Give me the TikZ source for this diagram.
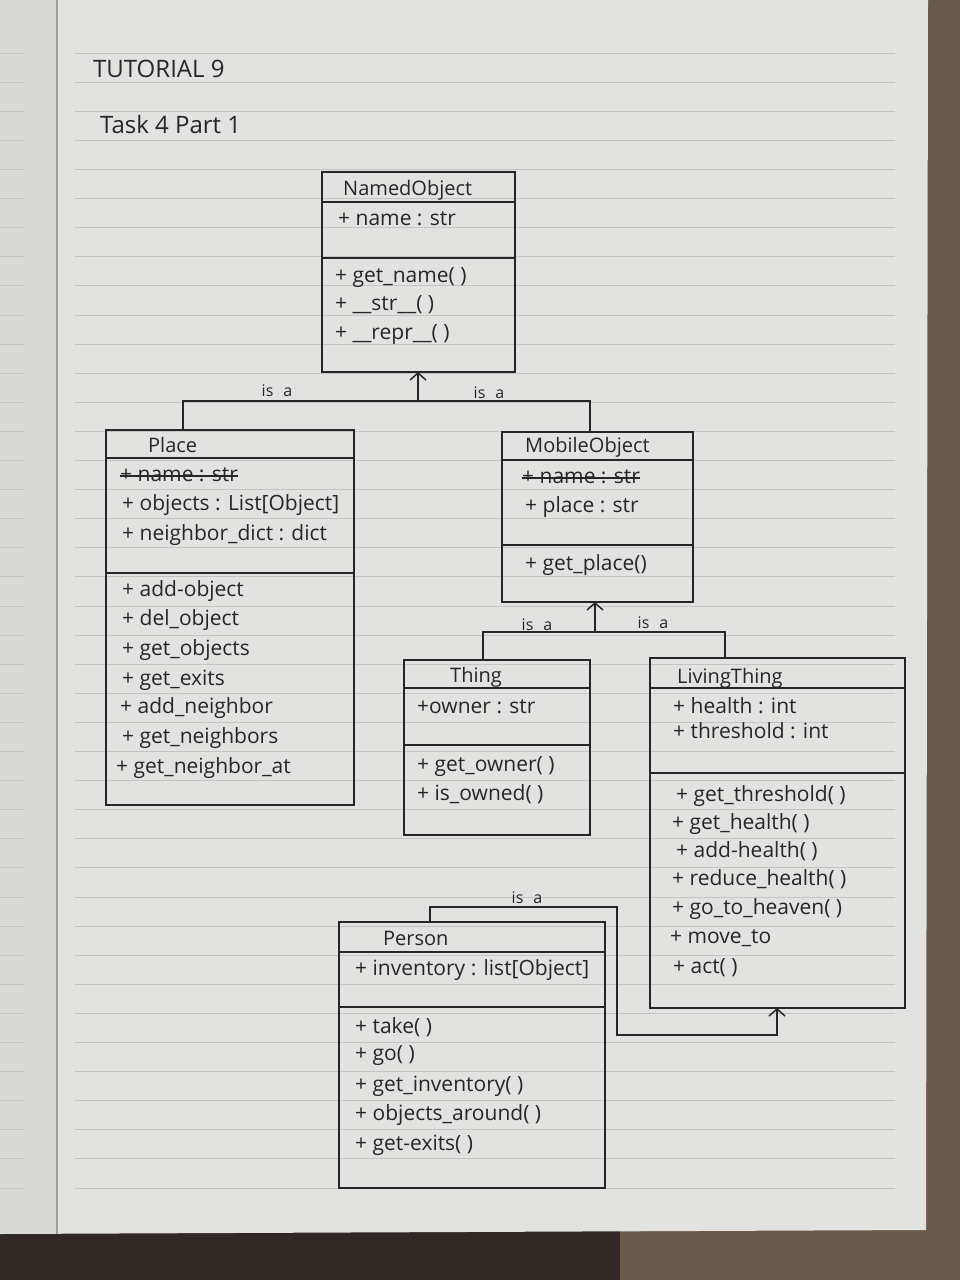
\documentclass[tikz,border=0pt]{standalone}
\usepackage{fontspec}
\setmainfont{Open Sans}
\usetikzlibrary{arrows.meta}
\definecolor{ink}{HTML}{262626}
\definecolor{paper}{HTML}{E2E2E0}
\definecolor{leftpage}{HTML}{D8D8D6}
\definecolor{rulecol}{HTML}{C4C4C2}
\definecolor{wood}{HTML}{6A5A4C}
\definecolor{darkwood}{HTML}{2F2824}
\definecolor{spine}{HTML}{A0A09E}
\begin{document}
\begin{tikzpicture}[x=1pt,y=-1pt,
  cls/.style={draw=ink, line width=1.6pt, anchor=north west, inner sep=0pt, outer sep=0pt},
  txt/.style={anchor=west, inner sep=0pt, text height=15pt, text depth=5pt, text=ink, font=\fontsize{21}{24}\selectfont},
  ttl/.style={txt, font=\fontsize{20}{24}\selectfont},
  head/.style={txt, font=\fontsize{24}{28}\selectfont},
  lbl/.style={anchor=base, inner sep=0pt, text=ink, font=\fontsize{16}{18}\selectfont},
  sep/.style={draw=ink, line width=1.4pt},
  link/.style={draw=ink, line width=1.5pt},
  strike/.style={draw=ink, line width=1.3pt},
  isa/.style={link, -{Straight Barb[length=7pt,width=16pt,line width=1.5pt]}}
]
\useasboundingbox (0,0) rectangle (960,1280);
% paper background
\fill[wood] (0,0) rectangle (960,1280);
\fill[darkwood] (0,1225) rectangle (620,1280);
\fill[paper] (0,0) -- (928,0) -- (926,1230) -- (0,1234) -- cycle;
\fill[leftpage] (0,0) rectangle (56,1234);
\foreach \k in {0,...,39} {
  \draw[rulecol, line width=0.8pt] (0,{53+29.1*\k}) -- (25,{53+29.1*\k});
  \draw[rulecol, line width=0.8pt] (75,{53+29.1*\k}) -- (895,{53+29.1*\k});
}
\draw[spine, line width=1.2pt] (57,0) -- (57,1234);

% header
\node[head] (tut) at (93,72) {TUTORIAL 9};
\node[head] (task) at (100,128) {Task 4 Part 1};

% NamedObject
\node[cls, minimum width=193pt, minimum height=200pt] (named) at (322,172) {};
\draw[sep] ([yshift=-30pt]named.north west) -- ([yshift=-30pt]named.north east);
\draw[sep] ([yshift=-86pt]named.north west) -- ([yshift=-86pt]named.north east);
\node[ttl] (namedT) at (343,190) {NamedObject};
\node[txt] (namedA1) at (338,220) {+ name : str};
\node[txt] (namedM1) at (335,277) {+ get\_name( )};
\node[txt] (namedM2) at (335,305) {+ \_\_str\_\_( )};
\node[txt] (namedM3) at (335,334) {+ \_\_repr\_\_( )};

% Place
\node[cls, minimum width=248pt, minimum height=375pt] (place) at (106,430) {};
\draw[sep] ([yshift=-28pt]place.north west) -- ([yshift=-28pt]place.north east);
\draw[sep] ([yshift=-143pt]place.north west) -- ([yshift=-143pt]place.north east);
\node[ttl] (placeT) at (148,447) {Place};
\node[txt] (placeS) at (120,476) {+ name : str};
\draw[strike] (placeS.west) -- (placeS.east);
\node[txt] (placeA1) at (122,505) {+ objects : List[Object]};
\node[txt] (placeA2) at (122,535) {+ neighbor\_dict : dict};
\node[txt] (placeM1) at (122,591) {+ add-object};
\node[txt] (placeM2) at (122,620) {+ del\_object};
\node[txt] (placeM3) at (122,650) {+ get\_objects};
\node[txt] (placeM4) at (122,680) {+ get\_exits};
\node[txt] (placeM5) at (120,708) {+ add\_neighbor};
\node[txt] (placeM6) at (122,738) {+ get\_neighbors};
\node[txt] (placeM7) at (116,768) {+ get\_neighbor\_at};

% MobileObject
\node[cls, minimum width=191pt, minimum height=170pt] (mobile) at (502,432) {};
\draw[sep] ([yshift=-28pt]mobile.north west) -- ([yshift=-28pt]mobile.north east);
\draw[sep] ([yshift=-113pt]mobile.north west) -- ([yshift=-113pt]mobile.north east);
\node[ttl] (mobileT) at (525,447) {MobileObject};
\node[txt] (mobileS) at (522,478) {+ name : str};
\draw[strike] (mobileS.west) -- (mobileS.east);
\node[txt] (mobileA1) at (525,507) {+ place : str};
\node[txt] (mobileM1) at (525,565) {+ get\_place()};

% Thing
\node[cls, minimum width=186pt, minimum height=175pt] (thing) at (404,660) {};
\draw[sep] ([yshift=-28pt]thing.north west) -- ([yshift=-28pt]thing.north east);
\draw[sep] ([yshift=-85pt]thing.north west) -- ([yshift=-85pt]thing.north east);
\node[ttl] (thingT) at (450,677) {Thing};
\node[txt] (thingA1) at (417,708) {+owner : str};
\node[txt] (thingM1) at (417,766) {+ get\_owner( )};
\node[txt] (thingM2) at (417,795) {+ is\_owned( )};

% LivingThing
\node[cls, minimum width=255pt, minimum height=350pt] (living) at (650,658) {};
\draw[sep] ([yshift=-30pt]living.north west) -- ([yshift=-30pt]living.north east);
\draw[sep] ([yshift=-115pt]living.north west) -- ([yshift=-115pt]living.north east);
\node[ttl] (livingT) at (677,678) {LivingThing};
\node[txt] (livingA1) at (673,708) {+ health : int};
\node[txt] (livingA2) at (673,733) {+ threshold : int};
\node[txt] (livingM1) at (676,796) {+ get\_threshold( )};
\node[txt] (livingM2) at (672,824) {+ get\_health( )};
\node[txt] (livingM3) at (676,852) {+ add-health( )};
\node[txt] (livingM4) at (672,880) {+ reduce\_health( )};
\node[txt] (livingM5) at (672,909) {+ go\_to\_heaven( )};
\node[txt] (livingM6) at (670,938) {+ move\_to};
\node[txt] (livingM7) at (673,968) {+ act( )};

% Person
\node[cls, minimum width=266pt, minimum height=266pt] (person) at (339,922) {};
\draw[sep] ([yshift=-30pt]person.north west) -- ([yshift=-30pt]person.north east);
\draw[sep] ([yshift=-85pt]person.north west) -- ([yshift=-85pt]person.north east);
\node[ttl] (personT) at (383,940) {Person};
\node[txt] (personA1) at (355,970) {+ inventory : list[Object]};
\node[txt] (personM1) at (355,1028) {+ take( )};
\node[txt] (personM2) at (355,1055) {+ go( )};
\node[txt] (personM3) at (355,1086) {+ get\_inventory( )};
\node[txt] (personM4) at (355,1115) {+ objects\_around( )};
\node[txt] (personM5) at (355,1145) {+ get-exits( )};

% inheritance: Place, MobileObject -> NamedObject
\coordinate (j1) at (418,401);
\coordinate (pl) at (183,401);
\coordinate (mo) at (590,401);
\draw[link] (pl |- place.north) -- (pl) -- (mo) -- (mo |- mobile.north);
\draw[isa] (j1) -- (j1 |- named.south);
\node[lbl] (isa1) at (277,396) {is\hspace{10pt}a};
\node[lbl] (isa2) at (489,398) {is\hspace{10pt}a};

% inheritance: Thing, LivingThing -> MobileObject
\coordinate (j2) at (595,632);
\coordinate (th) at (483,632);
\coordinate (lt) at (725,632);
\draw[link] (th |- thing.north) -- (th) -- (lt) -- (lt |- living.north);
\draw[isa] (j2) -- (j2 |- mobile.south);
\node[lbl] (isa3) at (537,630) {is\hspace{10pt}a};
\node[lbl] (isa4) at (653,628) {is\hspace{10pt}a};

% inheritance: Person -> LivingThing
\coordinate (p1) at (430,907);
\coordinate (p2) at (617,907);
\coordinate (p3) at (617,1035);
\coordinate (p4) at (777,1035);
\draw[isa] (p1 |- person.north) -- (p1) -- (p2) -- (p3) -- (p4) -- (p4 |- living.south);
\node[lbl] (isa5) at (527,903) {is\hspace{10pt}a};
\end{tikzpicture}
\end{document}
